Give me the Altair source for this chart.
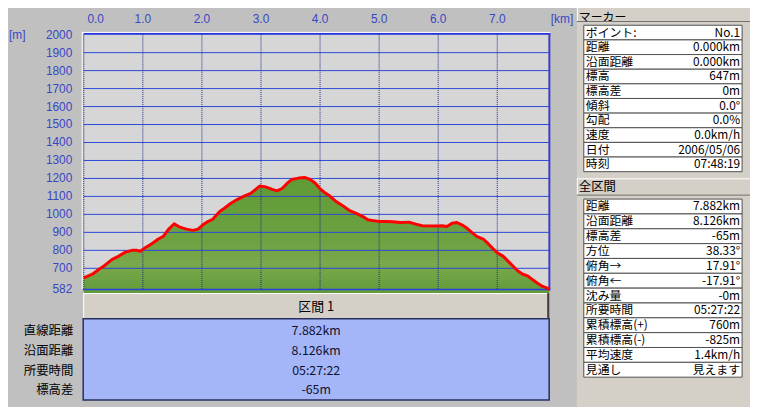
import altair as alt
import pandas as pd

# ---------------- data ----------------
km = [0.000, 0.146, 0.258, 0.342, 0.481, 0.593, 0.705, 0.816, 0.899, 0.956,
      1.040, 1.151, 1.263, 1.347, 1.430, 1.531, 1.626, 1.737, 1.849, 1.933,
      2.017, 2.100, 2.184, 2.296, 2.380, 2.491, 2.603, 2.715, 2.826, 2.910,
      2.983, 3.077, 3.189, 3.273, 3.357, 3.441, 3.524, 3.637, 3.747, 3.831,
      3.915, 3.998, 4.082, 4.166, 4.278, 4.390, 4.501, 4.613, 4.725, 4.809,
      4.920, 5.003, 5.116, 5.228, 5.367, 5.506, 5.618, 5.730, 5.841, 5.982,
      6.065, 6.149, 6.233, 6.317, 6.400, 6.484, 6.568, 6.652, 6.762, 6.846,
      6.930, 7.013, 7.097, 7.181, 7.265, 7.348, 7.432, 7.516, 7.600, 7.683,
      7.767, 7.851, 7.882]
elev = [647, 667, 695, 713, 750, 768, 790, 800, 800, 795,
        814, 837, 863, 878, 915, 948, 929, 918, 911, 918,
        942, 960, 973, 1015, 1034, 1062, 1084, 1102, 1117, 1139,
        1158, 1153, 1139, 1131, 1144, 1172, 1195, 1202, 1205, 1195,
        1175, 1144, 1120, 1102, 1070, 1047, 1021, 1006, 988, 970,
        964, 960, 960, 959, 955, 957, 946, 937, 935, 935,
        937, 933, 951, 955, 942, 924, 900, 878, 863, 837,
        808, 783, 768, 740, 713, 685, 667, 658, 636, 617,
        599, 590, 582]

x_domain = [0, 7.882]
y_domain = [582, 2000]
y_ticks = [582, 700, 800, 900, 1000, 1100, 1200, 1300, 1400, 1500, 1600, 1700, 1800, 1900, 2000]
y_grid = [700, 800, 900, 1000, 1100, 1200, 1300, 1400, 1500, 1600, 1700, 1800, 1900]
x_ticks = [0, 1, 2, 3, 4, 5, 6, 7]
x_tick_labels = ["0.0", "1.0", "2.0", "3.0", "4.0", "5.0", "6.0", "7.0"]

section_title = "区間 1"
section_labels = ["直線距離", "沿面距離", "所要時間", "標高差"]
section_values = ["7.882km", "8.126km", "05:27:22", "-65m"]

marker_title = "マーカー"
marker_labels = ["ポイント:", "距離", "沿面距離", "標高", "標高差", "傾斜", "勾配", "速度", "日付", "時刻"]
marker_values = ["No.1", "0.000km", "0.000km", "647m", "0m", "0.0°", "0.0%", "0.0km/h", "2006/05/06", "07:48:19"]

total_title = "全区間"
total_labels = ["距離", "沿面距離", "標高差", "方位", "俯角→", "俯角←", "沈み量", "所要時間",
                "累積標高(+)", "累積標高(-)", "平均速度", "見通し"]
total_values = ["7.882km", "8.126km", "-65m", "38.33°", "17.91°", "-17.91°", "-0m", "05:27:22",
                "760m", "-825m", "1.4km/h", "見えます"]

# ---------------- layout / style ----------------
O = 8  # page margin
JP = "Noto Sans CJK JP"
NUM = "Liberation Sans"
BLUE_TXT = "#3846c4"
GRID_H = "#2c48d8"
GRID_V = "#1c2a8c"
FACE = "#d4d0c8"


def px(v):
    return v - O


PL, PR, PT, PB = 84.6, 555.2, 32.8, 290.4
xs = alt.Scale(domain=x_domain, range=[px(PL), px(PR)], nice=False, zero=False)
ys = alt.Scale(domain=y_domain, range=[px(PB), px(PT)], nice=False, zero=False)

one = pd.DataFrame({"d": [0]})


def box(x0, x1, y0, y1, fill, **kw):
    return alt.Chart(one).mark_rect(fill=fill, **kw).encode(
        x=alt.value(px(x0)), x2=alt.value(px(x1)), y=alt.value(px(y0)), y2=alt.value(px(y1)))


def hline(x0, x1, y, color, w=1, **kw):
    return alt.Chart(one).mark_rule(color=color, strokeWidth=w, **kw).encode(
        x=alt.value(px(x0)), x2=alt.value(px(x1)), y=alt.value(px(y)))


def vline(x, y0, y1, color, w=1, **kw):
    return alt.Chart(one).mark_rule(color=color, strokeWidth=w, **kw).encode(
        x=alt.value(px(x)), y=alt.value(px(y0)), y2=alt.value(px(y1)))


def label(x, y, text, align="left", size=13, color="black", font=JP):
    return alt.Chart(one).mark_text(text=text, align=align, baseline="middle", fontSize=size,
                                    color=color, font=font).encode(
        x=alt.value(px(x)), y=alt.value(px(y)))


def table(labels, values, x0, x1, y0, y1, lsize, vsize):
    n = len(labels)
    df = pd.DataFrame({"i": list(range(n)), "label": labels, "value": values})
    sc = alt.Scale(type="band", domain=list(range(n)), range=[px(y0), px(y1)],
                   paddingInner=0, paddingOuter=0)
    Y = alt.Y("i:O", scale=sc, axis=None)
    base = alt.Chart(df)
    cells = base.mark_rect(fill="white", stroke="#505050", strokeWidth=1).encode(
        y=Y, x=alt.value(px(x0)), x2=alt.value(px(x1)))
    lab = base.mark_text(align="left", baseline="middle", font=JP, fontSize=lsize, color="black").encode(
        y=Y, x=alt.value(px(x0 + 2)), text="label:N")
    val = base.mark_text(align="right", baseline="middle", font=JP, fontSize=vsize, color="black").encode(
        y=Y, x=alt.value(px(x1 - 2)), text="value:N")
    return [cells, lab, val]


layers = []

# right panel background
layers.append(box(583, 758, 0, 410, FACE))

# plot background
layers.append(box(PL, PR, PT, PB, "#d6d6d6"))

# profile area
prof = pd.DataFrame({"km": km, "elev": elev})
X = alt.X("km:Q", scale=xs, axis=None)
Yp = alt.Y("elev:Q", scale=ys, axis=None)
grad = alt.Gradient(gradient="linear", x1=0, x2=0, y1=0, y2=1, stops=[
    alt.GradientStop(color="#5f9a35", offset=0),
    alt.GradientStop(color="#6ea242", offset=0.3),
    alt.GradientStop(color="#7aa84c", offset=0.4),
    alt.GradientStop(color="#5e9a36", offset=0.55),
    alt.GradientStop(color="#4c8e2c", offset=1),
])
layers.append(alt.Chart(prof).mark_area(color=grad).encode(x=X, y=Yp, y2=alt.value(px(PB))))

# gridlines
layers.append(alt.Chart(pd.DataFrame({"elev": y_grid})).mark_rule(color=GRID_H, strokeWidth=1).encode(
    y=Yp, x=alt.value(px(PL)), x2=alt.value(px(PR))))
layers.append(alt.Chart(pd.DataFrame({"km": x_ticks})).mark_rule(
    color=GRID_V, strokeWidth=1, strokeDash=[1, 1]).encode(
    x=X, y=alt.value(px(PT)), y2=alt.value(px(PB))))

# frame
layers.append(vline(83, 30, PB, "white", 1))
layers.append(hline(83, PR + 1, 30.5, "white", 1))
layers.append(hline(PL, PR + 1, 32, "#2434e0", 2))
layers.append(vline(PR, 31, PB + 1, "#3c3cc8", 2))
layers.append(hline(PL - 1, PR + 1, PB, "#2a40e0", 1.5))

# profile line
layers.append(alt.Chart(prof).mark_line(color="#ff0000", strokeWidth=3, strokeJoin="round").encode(x=X, y=Yp))

# axis labels
yl = pd.DataFrame({"elev": y_ticks, "t": [str(v) for v in y_ticks]})
layers.append(alt.Chart(yl).mark_text(align="right", baseline="middle", font=NUM, fontSize=12,
                                      color=BLUE_TXT).encode(y=Yp, x=alt.value(px(73)), text="t:N"))
xl = pd.DataFrame({"km": x_ticks[1:], "t": x_tick_labels[1:]})
layers.append(alt.Chart(xl).mark_text(align="center", baseline="middle", font=NUM, fontSize=12,
                                      color=BLUE_TXT).encode(x=X, y=alt.value(px(17)), text="t:N"))
xl0 = pd.DataFrame({"km": x_ticks[:1], "t": x_tick_labels[:1]})
layers.append(alt.Chart(xl0).mark_text(align="center", baseline="middle", font=NUM, fontSize=12, dx=12,
                                       color=BLUE_TXT).encode(x=X, y=alt.value(px(17)), text="t:N"))
layers.append(label(9, 33, "[m]", align="left", size=12, color=BLUE_TXT, font=NUM))
layers.append(label(568, 17, "[km]", align="center", size=12, color=BLUE_TXT, font=NUM))

# bottom section table
layers.append(box(84, 555, 294, 320, FACE))
layers.append(hline(84, 555, 294.5, "white"))
layers.append(vline(84.5, 294, 320, "white"))
layers.append(vline(554, 294, 320, "#404040", 2))
layers.append(box(84, 555, 320, 402, "#a4b6f8", stroke="#283060", strokeWidth=1.5))
layers.append(label(319.5, 308, section_title, align="center", size=13))
sdf = pd.DataFrame({"i": list(range(len(section_labels))), "label": section_labels, "value": section_values})
ssc = alt.Scale(type="band", domain=list(range(len(section_labels))), range=[px(322.4), px(402.4)],
                paddingInner=0, paddingOuter=0)
layers.append(alt.Chart(sdf).mark_text(align="right", baseline="middle", font=JP, fontSize=12.5,
                                       color="black").encode(
    y=alt.Y("i:O", scale=ssc, axis=None), x=alt.value(px(74)), text="label:N"))
layers.append(alt.Chart(sdf).mark_text(align="center", baseline="middle", font=JP, fontSize=12.5,
                                       color="#101030").encode(
    y=alt.Y("i:O", scale=ssc, axis=None), x=alt.value(px(319.5)), text="value:N"))

# right panel: marker
layers.append(vline(583.5, 0, 19, "white"))
layers.append(hline(583, 758, 19.5, "#707070"))
layers.append(label(585, 15, marker_title, size=12))
layers += table(marker_labels, marker_values, 590, 750, 23.3, 171.3, 12, 12)

# right panel: total
layers.append(hline(583, 758, 178.5, "white"))
layers.append(vline(583.5, 178, 195, "white"))
layers.append(hline(583, 758, 195, "#707070"))
layers.append(label(585, 187, total_title, size=12.5))
layers += table(total_labels, total_values, 590, 750, 199, 379, 12, 12)

chart = alt.layer(*layers).resolve_scale(x="independent", y="independent").properties(
    width=750, height=399, padding=0, background="#c0c0c0",
    autosize=alt.AutoSizeParams(type="none"),
).configure_view(stroke=None)

chart.save("out.html", embed_options={"renderer": "svg", "actions": False})
